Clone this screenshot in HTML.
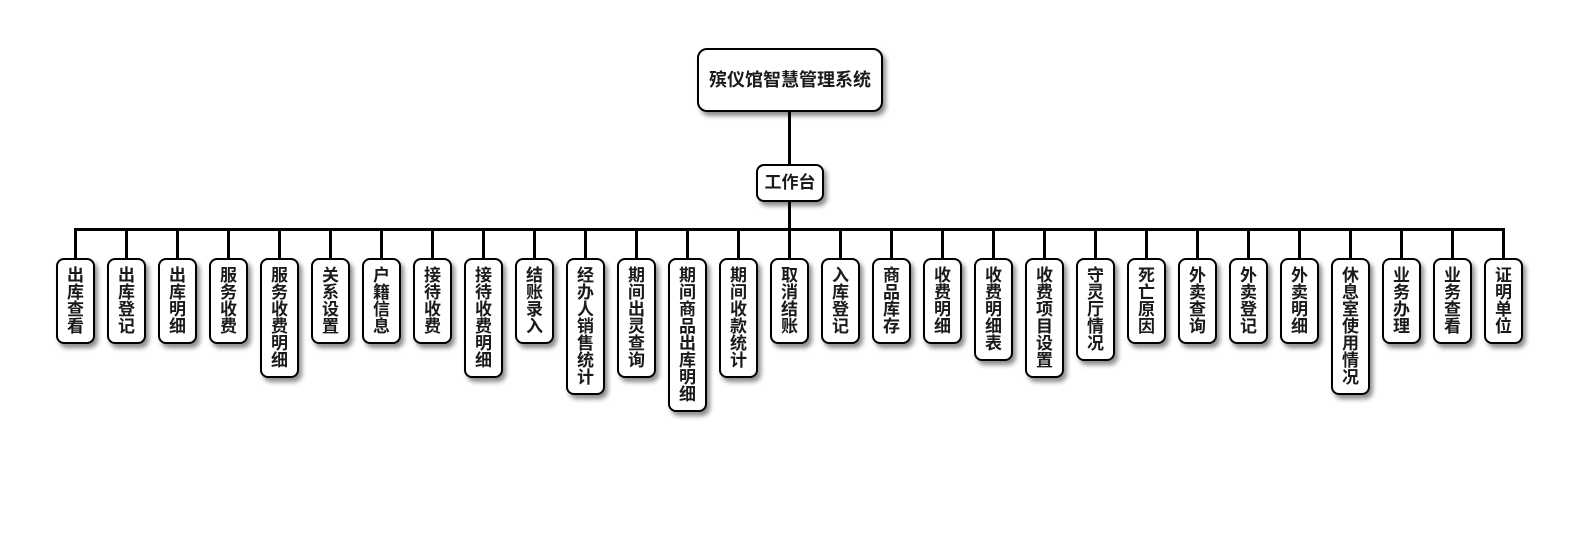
<!DOCTYPE html>
<html><head><meta charset="utf-8"><style>
html,body{margin:0;padding:0;background:#fff;}
body{width:1580px;height:560px;position:relative;overflow:hidden;font-family:"Liberation Sans","Noto Sans CJK SC",sans-serif;}
.l{position:absolute;background:#000;}
.b{position:absolute;box-sizing:border-box;border:2px solid #000;background:#fff;border-radius:8px;box-shadow:3px 4px 5px rgba(0,0,0,0.45);color:#1a1a1a;font-weight:bold;text-align:center;}
.n{top:258px;width:39px;font-size:17px;line-height:17px;padding-top:7px;}
</style></head><body>
<div class="l" style="left:788px;top:110px;width:3px;height:56px;"></div>
<div class="l" style="left:788px;top:200px;width:3px;height:30px;"></div>
<div class="l" style="left:74px;top:228px;width:1431px;height:3px;"></div>
<div class="l" style="left:74px;top:228px;width:3px;height:31px;"></div>
<div class="l" style="left:125px;top:228px;width:3px;height:31px;"></div>
<div class="l" style="left:176px;top:228px;width:3px;height:31px;"></div>
<div class="l" style="left:227px;top:228px;width:3px;height:31px;"></div>
<div class="l" style="left:278px;top:228px;width:3px;height:31px;"></div>
<div class="l" style="left:329px;top:228px;width:3px;height:31px;"></div>
<div class="l" style="left:380px;top:228px;width:3px;height:31px;"></div>
<div class="l" style="left:431px;top:228px;width:3px;height:31px;"></div>
<div class="l" style="left:482px;top:228px;width:3px;height:31px;"></div>
<div class="l" style="left:533px;top:228px;width:3px;height:31px;"></div>
<div class="l" style="left:584px;top:228px;width:3px;height:31px;"></div>
<div class="l" style="left:635px;top:228px;width:3px;height:31px;"></div>
<div class="l" style="left:686px;top:228px;width:3px;height:31px;"></div>
<div class="l" style="left:737px;top:228px;width:3px;height:31px;"></div>
<div class="l" style="left:788px;top:228px;width:3px;height:31px;"></div>
<div class="l" style="left:839px;top:228px;width:3px;height:31px;"></div>
<div class="l" style="left:890px;top:228px;width:3px;height:31px;"></div>
<div class="l" style="left:941px;top:228px;width:3px;height:31px;"></div>
<div class="l" style="left:992px;top:228px;width:3px;height:31px;"></div>
<div class="l" style="left:1043px;top:228px;width:3px;height:31px;"></div>
<div class="l" style="left:1094px;top:228px;width:3px;height:31px;"></div>
<div class="l" style="left:1145px;top:228px;width:3px;height:31px;"></div>
<div class="l" style="left:1196px;top:228px;width:3px;height:31px;"></div>
<div class="l" style="left:1247px;top:228px;width:3px;height:31px;"></div>
<div class="l" style="left:1298px;top:228px;width:3px;height:31px;"></div>
<div class="l" style="left:1349px;top:228px;width:3px;height:31px;"></div>
<div class="l" style="left:1400px;top:228px;width:3px;height:31px;"></div>
<div class="l" style="left:1451px;top:228px;width:3px;height:31px;"></div>
<div class="l" style="left:1502px;top:228px;width:3px;height:31px;"></div>

<div class="b" style="left:697px;top:48px;width:186px;height:64px;border-radius:10px;font-size:18px;line-height:60px;">殡仪馆智慧管理系统</div>
<div class="b" style="left:756px;top:164px;width:68px;height:38px;font-size:17px;line-height:34px;">工作台</div>

<div class="b n" style="left:56px;height:86px;">出<br>库<br>查<br>看</div>
<div class="b n" style="left:107px;height:86px;">出<br>库<br>登<br>记</div>
<div class="b n" style="left:158px;height:86px;">出<br>库<br>明<br>细</div>
<div class="b n" style="left:209px;height:86px;">服<br>务<br>收<br>费</div>
<div class="b n" style="left:260px;height:120px;">服<br>务<br>收<br>费<br>明<br>细</div>
<div class="b n" style="left:311px;height:86px;">关<br>系<br>设<br>置</div>
<div class="b n" style="left:362px;height:86px;">户<br>籍<br>信<br>息</div>
<div class="b n" style="left:413px;height:86px;">接<br>待<br>收<br>费</div>
<div class="b n" style="left:464px;height:120px;">接<br>待<br>收<br>费<br>明<br>细</div>
<div class="b n" style="left:515px;height:86px;">结<br>账<br>录<br>入</div>
<div class="b n" style="left:566px;height:137px;">经<br>办<br>人<br>销<br>售<br>统<br>计</div>
<div class="b n" style="left:617px;height:120px;">期<br>间<br>出<br>灵<br>查<br>询</div>
<div class="b n" style="left:668px;height:154px;">期<br>间<br>商<br>品<br>出<br>库<br>明<br>细</div>
<div class="b n" style="left:719px;height:120px;">期<br>间<br>收<br>款<br>统<br>计</div>
<div class="b n" style="left:770px;height:86px;">取<br>消<br>结<br>账</div>
<div class="b n" style="left:821px;height:86px;">入<br>库<br>登<br>记</div>
<div class="b n" style="left:872px;height:86px;">商<br>品<br>库<br>存</div>
<div class="b n" style="left:923px;height:86px;">收<br>费<br>明<br>细</div>
<div class="b n" style="left:974px;height:103px;">收<br>费<br>明<br>细<br>表</div>
<div class="b n" style="left:1025px;height:120px;">收<br>费<br>项<br>目<br>设<br>置</div>
<div class="b n" style="left:1076px;height:103px;">守<br>灵<br>厅<br>情<br>况</div>
<div class="b n" style="left:1127px;height:86px;">死<br>亡<br>原<br>因</div>
<div class="b n" style="left:1178px;height:86px;">外<br>卖<br>查<br>询</div>
<div class="b n" style="left:1229px;height:86px;">外<br>卖<br>登<br>记</div>
<div class="b n" style="left:1280px;height:86px;">外<br>卖<br>明<br>细</div>
<div class="b n" style="left:1331px;height:137px;">休<br>息<br>室<br>使<br>用<br>情<br>况</div>
<div class="b n" style="left:1382px;height:86px;">业<br>务<br>办<br>理</div>
<div class="b n" style="left:1433px;height:86px;">业<br>务<br>查<br>看</div>
<div class="b n" style="left:1484px;height:86px;">证<br>明<br>单<br>位</div>
</body></html>
